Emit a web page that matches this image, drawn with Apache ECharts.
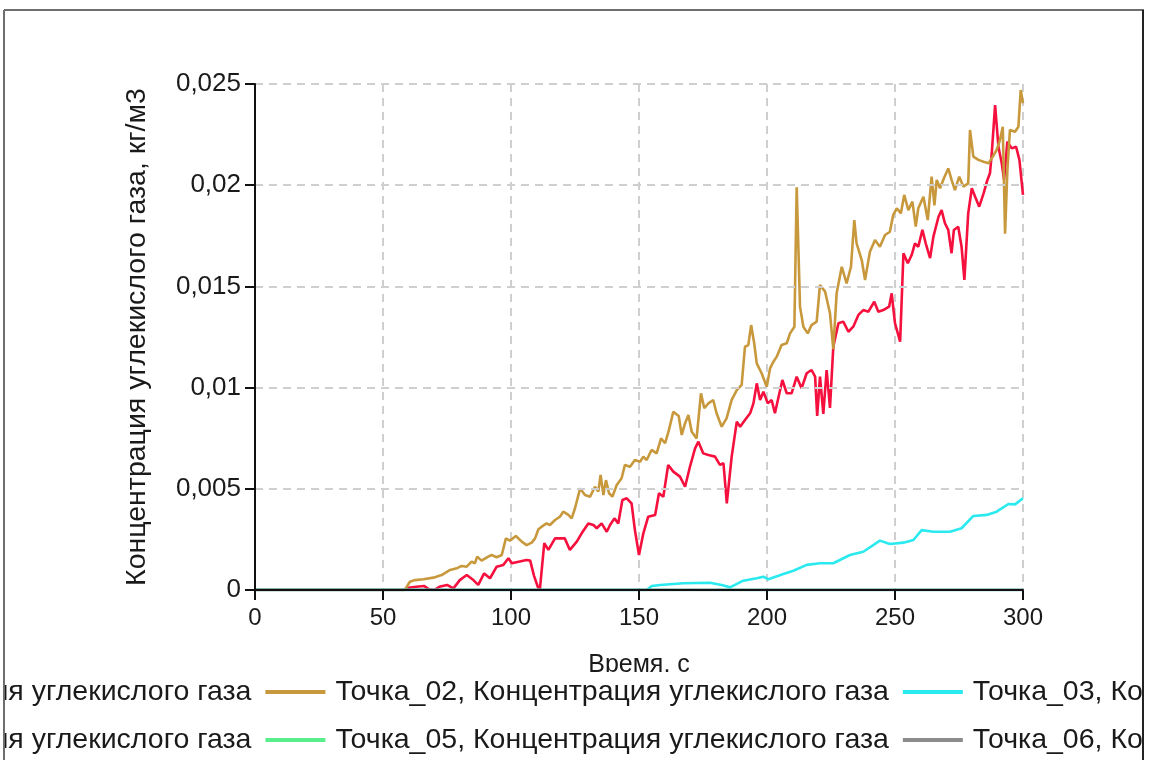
<!DOCTYPE html>
<html>
<head>
<meta charset="utf-8">
<script src="https://cdn.jsdelivr.net/npm/echarts@6/dist/echarts.min.js"></script>
<style>
  html, body { margin: 0; padding: 0; background: #fff; }
  #chart { width: 1150px; height: 760px; }
</style>
</head>
<body>
<div id="chart"></div>
<script>
// CO2 concentration (kg/m3) over time (s) at six measuring points
const seriesNames = [
  'Точка_01, Концентрация углекислого газа',
  'Точка_02, Концентрация углекислого газа',
  'Точка_03, Концентрация углекислого газа',
  'Точка_04, Концентрация углекислого газа',
  'Точка_05, Концентрация углекислого газа',
  'Точка_06, Концентрация углекислого газа'
];

// [time, concentration]
const point01 = [[0,0],[58,0],[60.5,0.00012],[63,0.00016],[66,0.0002],[68,0.00003],[70,0],[72,0.00016],[75,0.00025],[77.5,0.00008],[80,0.00049],[82.7,0.00074],[85.3,0.00049],[87.2,0.00025],[89.5,0.00082],[91.8,0.00058],[94.4,0.00115],[97,0.00124],[99,0.00157],[100.3,0.00132],[103,0.0014],[106,0.00148],[107.5,0.00145],[109,0.0007],[110.5,0.00015],[111.3,0.00005],[113,0.00231],[114.6,0.00198],[117.2,0.00255],[121,0.00255],[123,0.00198],[125.7,0.00239],[127.6,0.0028],[130.2,0.00329],[132.2,0.00321],[133.5,0.00305],[135.4,0.00329],[137.4,0.00288],[138.7,0.00321],[140.4,0.00354],[141.9,0.00329],[143.5,0.00445],[145.2,0.00453],[147.1,0.00428],[148.4,0.00296],[150,0.00173],[151.7,0.0028],[153.6,0.00362],[156.3,0.00371],[157.8,0.00478],[159.5,0.00461],[161.4,0.00618],[163.4,0.00585],[166,0.0056],[168,0.0051],[169.9,0.00609],[171.9,0.007],[173.2,0.00733],[175.1,0.00675],[177.1,0.00667],[179.7,0.00659],[181.6,0.00618],[183,0.00626],[184.3,0.00428],[186.2,0.00659],[188.2,0.00832],[189.5,0.00807],[191.4,0.0084],[193.4,0.00873],[194.7,0.00922],[196,0.01021],[197.3,0.00939],[198.6,0.0098],[200.3,0.00922],[201.8,0.00939],[203.1,0.00873],[204.4,0.00947],[206,0.01038],[207.7,0.00972],[209.6,0.00972],[211.6,0.01054],[213.5,0.00997],[215.5,0.01071],[217.4,0.01087],[218.8,0.01054],[219.6,0.0086],[220.7,0.01054],[222,0.0087],[223.3,0.01087],[224.6,0.009],[225.9,0.01202],[227.9,0.01318],[229.8,0.01326],[231.8,0.01276],[233.7,0.01301],[235.7,0.01359],[237.6,0.01383],[239.6,0.01375],[241.9,0.01424],[243.5,0.01375],[245.4,0.01383],[247.7,0.014],[248.7,0.01466],[250,0.01318],[252,0.01227],[253.3,0.01664],[255,0.01614],[256.5,0.01655],[257.8,0.01713],[259.1,0.01696],[260.7,0.01779],[262,0.01713],[263.7,0.0164],[265,0.01746],[267,0.01844],[268.2,0.01877],[269.5,0.01812],[270.8,0.01779],[272.1,0.01664],[273,0.01779],[274.7,0.01795],[276,0.01696],[277.1,0.01532],[278.6,0.01861],[280,0.01985],[281.3,0.01943],[282.9,0.01894],[284.6,0.0196],[286.1,0.02026],[287.1,0.02059],[287.8,0.02158],[289.1,0.02396],[290.4,0.0219],[291.7,0.02108],[292.6,0.02026],[293.9,0.02215],[295.6,0.02182],[297.3,0.0219],[298.6,0.02125],[300,0.01952]];

const point02 = [[0,0],[58.5,0],[60.5,0.00041],[62.5,0.00049],[65.8,0.00053],[69.7,0.00061],[72.9,0.00074],[76.2,0.00099],[78.8,0.00107],[80.7,0.00119],[82.7,0.00115],[84.6,0.0014],[85.9,0.00132],[86.8,0.00165],[88.5,0.00145],[91.1,0.00165],[92.4,0.00173],[94.4,0.00162],[96.4,0.00173],[98,0.00255],[99.6,0.00244],[101.9,0.00267],[104.2,0.00239],[106.1,0.00222],[108.1,0.00234],[109.4,0.00255],[110.7,0.003],[112,0.00313],[113.9,0.00329],[115.2,0.00321],[117.2,0.00346],[119.1,0.00362],[120.4,0.00387],[122.4,0.00371],[123.7,0.00354],[125,0.00404],[127,0.00502],[128.9,0.00469],[130.9,0.00461],[132.8,0.0051],[134.1,0.00486],[135,0.00568],[136.1,0.00469],[137.1,0.00543],[138.3,0.00478],[139.6,0.00461],[141.3,0.00519],[143.2,0.00552],[144.5,0.00618],[146.5,0.00609],[148.4,0.00642],[150.4,0.00634],[151.7,0.00659],[153,0.00642],[154.9,0.00692],[156.9,0.00675],[158.6,0.00749],[160.2,0.00725],[161.7,0.00791],[163.4,0.00881],[165.5,0.0086],[166.7,0.00766],[168,0.00824],[169.3,0.00865],[170.6,0.00782],[172.5,0.00749],[174.2,0.00972],[175.5,0.00898],[177.1,0.00922],[179,0.00939],[180.3,0.00873],[182.3,0.00807],[184.2,0.00848],[186.2,0.00939],[188.2,0.00988],[190.1,0.01013],[191.4,0.01202],[192.7,0.0121],[193.8,0.01309],[195,0.01219],[196,0.0112],[197.9,0.01071],[199.9,0.01004],[201.2,0.01095],[202.5,0.01128],[203.8,0.01153],[205.7,0.0121],[207.7,0.01219],[209,0.01268],[210.7,0.01301],[211.6,0.0199],[212.9,0.014],[214.2,0.01301],[215.9,0.01268],[217.4,0.01309],[219.4,0.01326],[220.7,0.01507],[222.7,0.01474],[224.6,0.01367],[225.9,0.0119],[227.2,0.01466],[229.2,0.01597],[231.1,0.01515],[232.8,0.01597],[234.1,0.01828],[235,0.01713],[237,0.0163],[238.3,0.01532],[240.2,0.01671],[242.2,0.01729],[244.1,0.01696],[246.1,0.01754],[248,0.0177],[249.3,0.01853],[250.7,0.01886],[252.3,0.01861],[253.6,0.01952],[255.2,0.01877],[256.8,0.01919],[258.1,0.01795],[259.1,0.01886],[261.1,0.01943],[262.8,0.01828],[264.3,0.02042],[265.4,0.019],[266.3,0.02026],[267.6,0.01985],[269.1,0.02034],[270.8,0.02083],[272.1,0.02026],[273.4,0.01976],[275.1,0.02042],[276.7,0.01993],[278.6,0.02009],[279.3,0.02273],[280.6,0.02141],[282.6,0.02125],[284.6,0.02116],[286.5,0.02108],[288.2,0.02141],[289.7,0.02174],[291,0.02223],[292.1,0.02289],[293,0.0176],[293.9,0.02075],[294.9,0.02273],[296.9,0.02264],[298.2,0.02289],[299.1,0.0247],[300,0.02405]];

const point03 = [[0,0],[153,0],[155,0.0002],[158.2,0.00025],[167.3,0.00033],[177.7,0.00036],[182.3,0.00025],[185.5,0.00013],[187.5,0.00025],[190.7,0.00046],[196,0.00058],[198.6,0.00066],[200.5,0.00053],[206.4,0.00079],[210.3,0.00095],[215.5,0.00124],[220.7,0.00132],[225.9,0.00132],[232.4,0.00173],[237.6,0.00189],[244.1,0.00244],[248,0.00227],[253.3,0.00234],[257.2,0.00247],[260.4,0.00296],[265,0.00288],[271.5,0.00288],[276,0.00305],[280.6,0.00366],[285.8,0.00371],[289.7,0.00387],[294.3,0.00425],[296.9,0.00423],[300,0.00453]];

const point04 = [[0,0],[300,0]];
const point05 = [[0,0],[300,0]];
const point06 = [[0,0],[300,0]];

const xTicks = { min: 0, max: 300, interval: 50 };
const yTicks = { min: 0, max: 0.025, interval: 0.005 };

const lineColors = ['#f5103e', '#c8983d', '#2ae9ef', '#3b6fd6', '#58ee8c', '#8c8c8c'];
const pointData = [point01, point02, point03, point04, point05, point06];

const FONT = '"Liberation Sans", Arial, sans-serif';
const TEXT = '#1a1a1a';

const chart = echarts.init(document.getElementById('chart'), null, { renderer: 'canvas' });

const fmtY = v => v === 0 ? '0' : String(+v.toFixed(4)).replace('.', ',');

const option = {
  backgroundColor: '#ffffff',
  animation: false,
  textStyle: { fontFamily: FONT },
  grid: { left: 255, right: 127, top: 84, bottom: 170 },
  xAxis: [
    {
      type: 'value',
      min: xTicks.min, max: xTicks.max, interval: xTicks.interval,
      name: 'Время, с',
      nameLocation: 'middle',
      nameGap: 63,
      nameTextStyle: { fontSize: 25, color: TEXT, fontFamily: FONT },
      axisLine: { show: false },
      axisTick: { show: false },
      axisLabel: { fontSize: 24, color: TEXT, margin: 16, fontFamily: FONT },
      splitLine: { show: true, lineStyle: { color: '#cfcfcf', width: 2, type: [8, 6] } }
    },
    {
      type: 'value',
      position: 'bottom',
      min: xTicks.min, max: xTicks.max, interval: xTicks.interval,
      z: 5,
      axisLine: { show: true, onZero: false, lineStyle: { color: '#111', width: 2 } },
      axisTick: { show: true, length: 10, lineStyle: { color: '#111', width: 2 } },
      axisLabel: { show: false },
      splitLine: { show: false }
    }
  ],
  yAxis: {
    type: 'value',
    min: yTicks.min, max: yTicks.max, interval: yTicks.interval,
    name: 'Концентрация углекислого газа, кг/м3',
    nameLocation: 'middle',
    nameGap: 103,
    nameRotate: 90,
    nameTextStyle: { fontSize: 28.5, color: TEXT, fontFamily: FONT },
    z: 5,
    axisLine: { show: true, onZero: false, lineStyle: { color: '#111', width: 2 } },
    axisTick: { show: true, length: 10, lineStyle: { color: '#111', width: 2 } },
    axisLabel: { fontSize: 26, color: TEXT, margin: 14, fontFamily: FONT, formatter: fmtY },
    splitLine: { show: true, lineStyle: { color: '#cfcfcf', width: 2, type: [8, 6] } }
  },
  legend: {
    type: 'plain',
    orient: 'horizontal',
    left: -372,
    top: 672,
    width: 2000,
    padding: [3, 0, 20, 0],
    backgroundColor: '#ffffff',
    itemWidth: 60,
    itemHeight: 4,
    itemGap: 14,
    icon: 'rect',
    data: seriesNames,
    textStyle: { fontSize: 28.5, color: TEXT, lineHeight: 34, padding: [0, 0, 0, 5], fontFamily: FONT }
  },
  graphic: {
    elements: [
      { type: 'rect', z: 100, shape: { x: 0, y: 0, width: 4, height: 760 }, style: { fill: '#fff' } },
      { type: 'rect', z: 100, shape: { x: 1144, y: 0, width: 6, height: 760 }, style: { fill: '#fff' } },
      { type: 'line', z: 101, shape: { x1: 4, y1: 10, x2: 1144, y2: 10 }, style: { stroke: '#6e6e6e', lineWidth: 2 } },
      { type: 'line', z: 101, shape: { x1: 4, y1: 10, x2: 4, y2: 760 }, style: { stroke: '#6e6e6e', lineWidth: 2 } },
      { type: 'line', z: 101, shape: { x1: 1143, y1: 10, x2: 1143, y2: 760 }, style: { stroke: '#222', lineWidth: 2 } }
    ]
  },
  series: seriesNames.map((name, i) => ({
    name,
    type: 'line',
    xAxisIndex: 0,
    showSymbol: false,
    symbol: 'none',
    color: lineColors[i],
    lineStyle: { color: lineColors[i], width: 2.6 },
    data: pointData[i]
  }))
};

chart.setOption(option);
</script>
</body>
</html>
